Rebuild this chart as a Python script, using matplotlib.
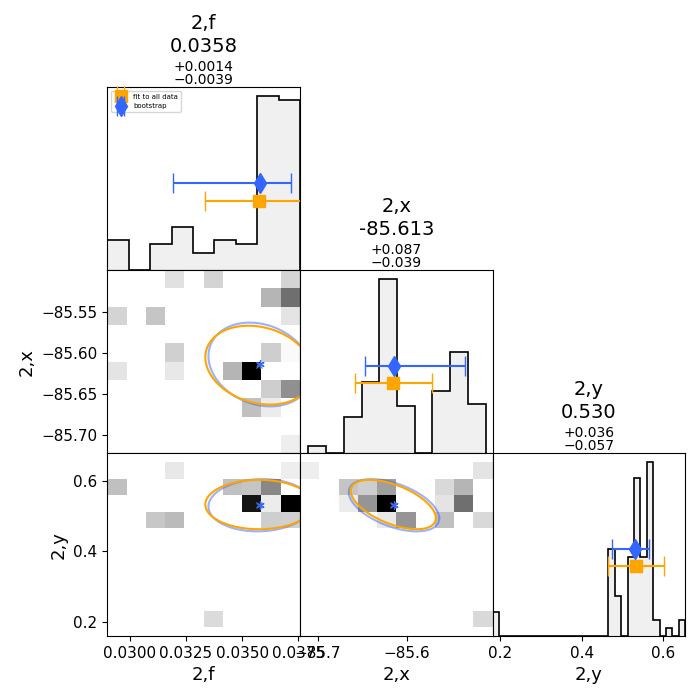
import numpy as np
import matplotlib
matplotlib.use("Agg")
import matplotlib.pyplot as plt

names = ["2,f", "2,x", "2,y"]
title_val = ["0.0358", "-85.613", "0.530"]
title_up = ["+0.0014", "+0.087", "+0.036"]
title_dn = ["\u22120.0039", "\u22120.039", "\u22120.057"]

# axis ranges
x_lims = [(0.02899, 0.03758), (-85.7204, -85.5032), (0.1811, 0.6539)]
y_lims = [None, (-85.7223, -85.4996), (0.1594, 0.6777)]
x_ticks = [[0.0300, 0.0325, 0.0350, 0.0375], [-85.7, -85.6], [0.2, 0.4, 0.6]]
y_ticks = [None, [-85.70, -85.65, -85.60, -85.55], [0.2, 0.4, 0.6]]

# 1d histograms (counts per bin, bin range)
hist_f = [7, 0, 6, 10, 4, 7, 6, 40, 39]
hist_f_range = (0.02899, 0.03758)
hist_x = [1.7, 0, 8.3, 16.3, 40, 10.9, 0, 14.3, 23.2, 11.3]
hist_x_range = (-85.711, -85.511)
hist_y = [3, 0, 0, 0, 0, 0, 0, 0, 0, 0, 0, 0, 0, 0, 0, 0, 0, 0,
          11, 5, 0, 10, 20, 10, 22, 2, 0, 1, 0, 2]
hist_y_range = (0.1811, 0.6539)

# 2d histograms, top row first, greyscale level 0..1
bins2d_y = (0.1841, 0.6522)   # bin range of 2,y in the bottom row
grid_fx = [
    [0, 0, 0, .21, 0, .27, 0, 0, 0, .27],
    [0, 0, 0, 0, 0, 0, 0, 0, .40, .64],
    [.27, 0, .34, 0, 0, 0, 0, 0, 0, .19],
    [0, 0, 0, 0, 0, 0, 0, 0, 0, 0],
    [0, 0, 0, .29, 0, 0, 0, 0, .30, .04],
    [.19, 0, 0, .17, 0, 0, .40, 1.0, 0, 0],
    [0, 0, 0, 0, 0, 0, 0, 0, .30, .52],
    [0, 0, 0, 0, 0, 0, 0, .36, .15, 0],
    [0, 0, 0, 0, 0, 0, 0, 0, 0, 0],
    [0, 0, 0, 0, 0, 0, 0, 0, 0, .14],
]
grid_fy = [
    [0, 0, 0, .17, 0, 0, 0, 0, 0, .14],
    [.36, 0, 0, 0, 0, 0, .36, .34, .55, 0],
    [0, 0, 0, 0, 0, 0, 0, .93, .15, 1.0],
    [0, 0, .33, .38, 0, 0, 0, 0, .30, .29],
    [0, 0, 0, 0, 0, 0, 0, 0, 0, 0],
    [0, 0, 0, 0, 0, 0, 0, 0, 0, 0],
    [0, 0, 0, 0, 0, 0, 0, 0, 0, 0],
    [0, 0, 0, 0, 0, 0, 0, 0, 0, 0],
    [0, 0, 0, 0, 0, 0, 0, 0, 0, 0],
    [0, 0, 0, 0, 0, .24, 0, 0, 0, 0],
]
grid_xy = [
    [.14, 0, 0, 0, 0, 0, 0, 0, 0, .19],
    [0, 0, .34, .30, .47, 0, 0, .25, .40, 0],
    [0, 0, .15, .50, 1.0, 0, 0, .19, .64, 0],
    [0, 0, 0, 0, .17, .50, 0, .36, 0, .25],
    [0, 0, 0, 0, 0, 0, 0, 0, 0, 0],
    [0, 0, 0, 0, 0, 0, 0, 0, 0, 0],
    [0, 0, 0, 0, 0, 0, 0, 0, 0, 0],
    [0, 0, 0, 0, 0, 0, 0, 0, 0, 0],
    [0, 0, 0, 0, 0, 0, 0, 0, 0, 0],
    [0, 0, 0, 0, 0, 0, 0, 0, 0, .25],
]

# fit to all data: value, -err, +err ; covariance via sigma and correlation
fit_val = [0.03576, -85.6152, 0.532]
fit_lo = [0.0024, 0.043, 0.068]
fit_hi = [0.0026, 0.044, 0.070]
fit_sig = [0.0024, 0.048, 0.070]
fit_rho = {(1, 0): -0.2, (2, 0): 0.0, (2, 1): -0.55}

# bootstrap
boot_val = [0.0358, -85.6144, 0.530]
boot_lo = [0.0039, 0.033, 0.057]
boot_hi = [0.0014, 0.080, 0.036]
boot_sig = [0.0023, 0.051, 0.074]
boot_rho = {(1, 0): -0.2, (2, 0): 0.05, (2, 1): -0.5}

orange = "#ffa500"
blue = "#3366ff"


def ellipse(cx, cy, sx, sy, rho):
    t = np.linspace(0, 2 * np.pi, 300)
    cov = np.array([[sx * sx, rho * sx * sy], [rho * sx * sy, sy * sy]])
    L = np.linalg.cholesky(cov)
    p = L @ np.vstack([np.cos(t), np.sin(t)])
    return cx + p[0], cy + p[1]


fig, axes = plt.subplots(3, 3, figsize=(7, 7), dpi=100)
fig.subplots_adjust(left=0.1533, right=0.979, bottom=0.0914, top=0.8753,
                    wspace=0, hspace=0)

hists = [hist_f, hist_x, hist_y]
hranges = [hist_f_range, hist_x_range, hist_y_range]
grids = {(1, 0): grid_fx, (2, 0): grid_fy, (2, 1): grid_xy}

for i in range(3):
    for j in range(3):
        ax = axes[i, j]
        if j > i:
            ax.axis("off")
            continue
        ax.tick_params(labelsize=11)
        if i == j:
            counts = np.array(hists[i], float)
            edges = np.linspace(hranges[i][0], hranges[i][1], len(counts) + 1)
            ax.stairs(counts, edges, fill=True, color="#f0f0f0")
            ax.stairs(counts, edges, color="black", lw=1.2, baseline=0)
            top = counts.max()
            ax.errorbar(fit_val[i], 0.4 * top, xerr=[[fit_lo[i]], [fit_hi[i]]],
                        fmt="s", color=orange, ms=8, capsize=7, lw=1.5,
                        label="fit to all data")
            ax.errorbar(boot_val[i], 0.5 * top, xerr=[[boot_lo[i]], [boot_hi[i]]],
                        fmt="d", color=blue, ms=10, capsize=7, lw=1.5,
                        label="bootstrap")
            ax.set_ylim(0, 1.05 * top)
            ax.set_yticks([])
            # title block
            for txt, off, fs in [(names[i], 41.8, 14), (title_val[i], 25.6, 14),
                                 (title_up[i], 11.7, 10), (title_dn[i], 2.4, 10)]:
                ax.annotate(txt, xy=(0.5, 1), xycoords="axes fraction",
                            xytext=(0, off), textcoords="offset points",
                            ha="center", va="baseline", fontsize=fs)
        else:
            g = np.array(grids[(i, j)])[::-1]
            xe = np.linspace(x_lims[j][0], x_lims[j][1], g.shape[1] + 1)
            if i == 2:
                ye = np.linspace(bins2d_y[0], bins2d_y[1], g.shape[0] + 1)
            else:
                ye = np.linspace(y_lims[i][0], y_lims[i][1], g.shape[0] + 1)
            ax.pcolormesh(xe, ye, g, cmap="Greys", vmin=0, vmax=1)
            ex, ey = ellipse(boot_val[j], boot_val[i], boot_sig[j], boot_sig[i],
                             boot_rho[(i, j)])
            ax.plot(ex, ey, color=blue, lw=1.5, alpha=0.5)
            ex, ey = ellipse(fit_val[j], fit_val[i], fit_sig[j], fit_sig[i],
                             fit_rho[(i, j)])
            ax.plot(ex, ey, color=orange, lw=1.5)
            ax.plot(fit_val[j], fit_val[i], marker="x", color="gray", ms=4, mew=0.8)
            ax.plot(boot_val[j], boot_val[i], marker=(6, 2, 0), color=blue,
                    ms=6, mew=0.9)
            ax.set_ylim(*y_lims[i])
            if j == 0:
                ax.set_yticks(y_ticks[i])
                ax.set_ylabel(names[i], fontsize=13)
            else:
                ax.set_yticks([])
        ax.set_xlim(*x_lims[j])
        if i == 2:
            ax.set_xticks(x_ticks[j])
            ax.set_xlabel(names[j], fontsize=13)
        else:
            ax.set_xticks([])

axes[0, 0].legend(loc="upper left", fontsize=5)

fig.savefig("out.png", dpi=100)
